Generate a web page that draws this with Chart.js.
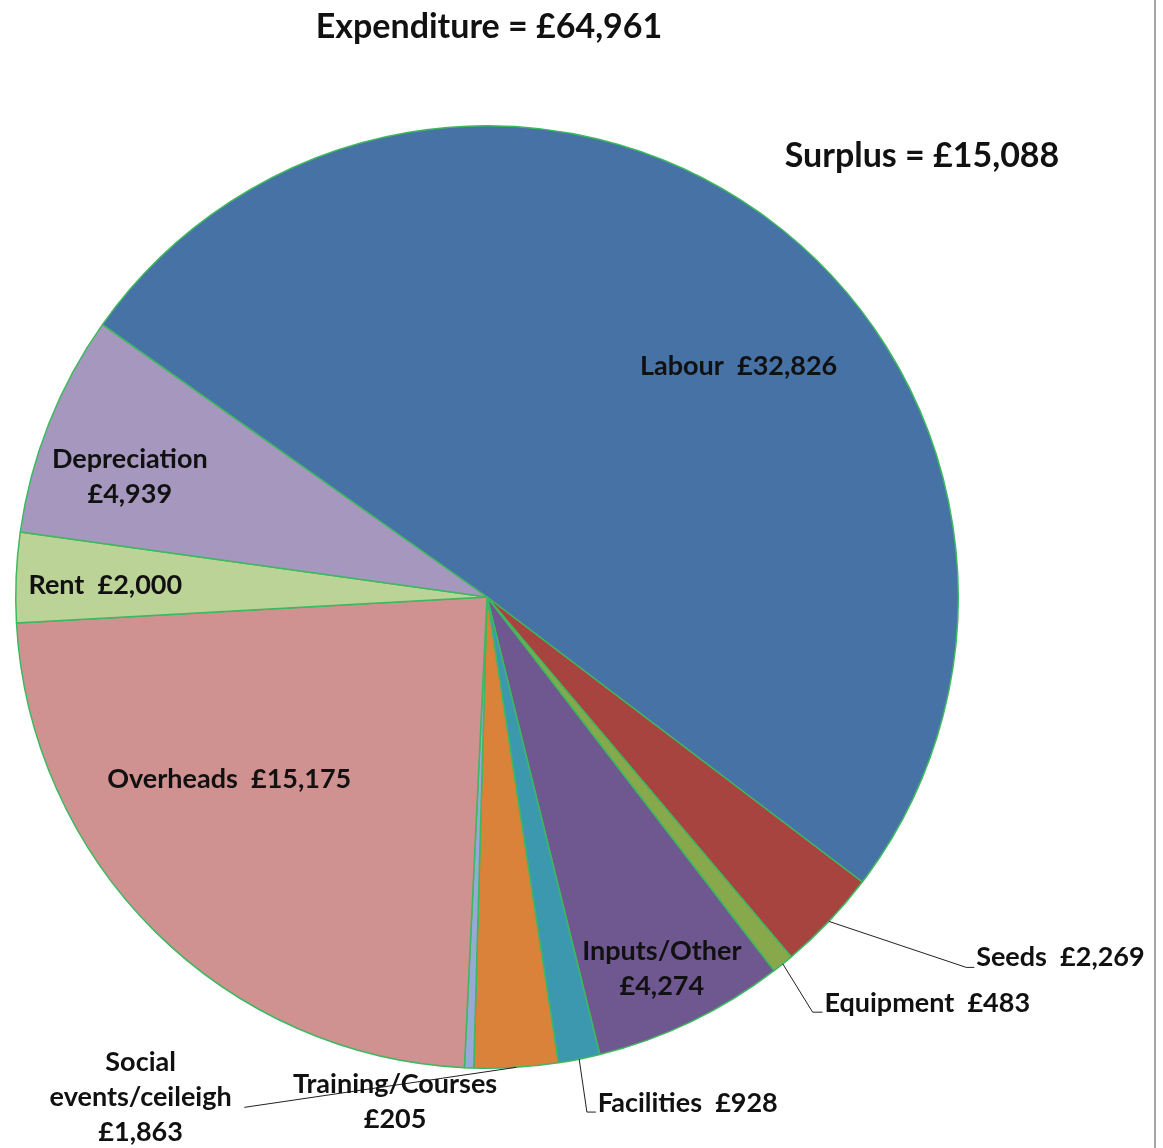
<!DOCTYPE html>
<html>
<head>
<meta charset="utf-8">
<script src="https://cdn.jsdelivr.net/npm/chart.js@4/dist/chart.umd.min.js"></script>
<style>
  html, body { margin: 0; padding: 0; background: #ffffff; }
  #wrap { width: 1163px; height: 1148px; position: relative; }
  canvas { display: block; }
</style>
</head>
<body>
<div id="wrap"><canvas id="c" width="1163" height="1148"></canvas></div>
<script>
// ---- data ----
const categories = ['Labour', 'Seeds', 'Equipment', 'Inputs/Other', 'Facilities',
  'Social events/ceileigh', 'Training/Courses', 'Overheads', 'Rent', 'Depreciation'];
const values = [32826, 2269, 483, 4274, 928, 1863, 205, 15175, 2000, 4939];
const titleText = 'Expenditure = £64,961';
const surplusText = 'Surplus = £15,088';

// ---- styles ----
const colors = ['#4672A6', '#A8443F', '#88A84C', '#6F578F', '#3C98AF',
  '#DA8239', '#95ABD6', '#D09290', '#BCD397', '#A597BE'];
const FONT = 'Lato, "Open Sans", sans-serif';

// label layout, offsets relative to pie centre in units of radius
const labelLayout = [
  { lines: ['Labour  {v}'], pos: [0.534, -0.489] },
  { lines: ['Seeds  {v}'], pos: [1.038, 0.765], align: 'left', elbow: [1.017, 0.786], end: [1.034, 0.786] },
  { lines: ['Equipment  {v}'], pos: [0.716, 0.862], align: 'left', elbow: [0.691, 0.881], end: [0.712, 0.881] },
  { lines: ['Inputs/Other', '{v}'], pos: [0.371, 0.790] },
  { lines: ['Facilities  {v}'], pos: [0.235, 1.074], align: 'left', elbow: [0.212, 1.093], end: [0.231, 1.093] },
  { lines: ['Social', 'events/ceileigh', '{v}'], pos: [-0.735, 1.061], end: [-0.515, 1.083] },
  { lines: ['Training/Courses', '{v}'], pos: [-0.195, 1.072] },
  { lines: ['Overheads  {v}'], pos: [-0.547, 0.386] },
  { lines: ['Rent  {v}'], pos: [-0.810, -0.025] },
  { lines: ['Depreciation', '{v}'], pos: [-0.758, -0.256] }
];

function fmt(v) { return '£' + v.toLocaleString('en-GB'); }

const labelPlugin = {
  id: 'labelPlugin',
  beforeDraw(chart) {
    const ctx = chart.ctx;
    ctx.save();
    ctx.fillStyle = '#ffffff';
    ctx.fillRect(0, 0, chart.width, chart.height);
    ctx.restore();
  },
  afterDraw(chart) {
    const ctx = chart.ctx;
    const meta = chart.getDatasetMeta(0);
    const first = meta.data[0];
    const cx = first.x, cy = first.y, R = first.outerRadius;
    ctx.save();
    // frame line on the right
    ctx.strokeStyle = '#A6A6A6';
    ctx.lineWidth = 2;
    ctx.beginPath();
    ctx.moveTo(chart.width - 8, 0);
    ctx.lineTo(chart.width - 8, chart.height);
    ctx.stroke();

    // title texts
    ctx.fillStyle = '#111111';
    ctx.textBaseline = 'middle';
    ctx.font = 'bold 34px ' + FONT;
    ctx.textAlign = 'center';
    ctx.fillText(titleText, cx + 2, 27);
    ctx.fillText(surplusText, cx + 435, 156);

    // slice labels
    ctx.font = 'bold 27px ' + FONT;
    const lh = 35;
    meta.data.forEach((arc, i) => {
      const L = labelLayout[i];
      const mid = (arc.startAngle + arc.endAngle) / 2;
      if (L.end) {
        ctx.strokeStyle = '#222222';
        ctx.lineWidth = 1;
        ctx.beginPath();
        ctx.moveTo(cx + Math.cos(mid) * R, cy + Math.sin(mid) * R);
        if (L.elbow) ctx.lineTo(cx + L.elbow[0] * R, cy + L.elbow[1] * R);
        ctx.lineTo(cx + L.end[0] * R, cy + L.end[1] * R);
        ctx.stroke();
      }
      const x = cx + L.pos[0] * R;
      const y = cy + L.pos[1] * R;
      ctx.textAlign = L.align || 'center';
      ctx.fillStyle = '#111111';
      const n = L.lines.length;
      L.lines.forEach((t, k) => {
        const txt = t.replace('{v}', fmt(values[i]));
        ctx.fillText(txt, x, y + (k - (n - 1) / 2) * lh);
      });
    });
    ctx.restore();
  }
};

new Chart(document.getElementById('c'), {
  type: 'pie',
  data: {
    labels: categories,
    datasets: [{
      data: values,
      backgroundColor: colors,
      borderColor: '#3DB860',
      borderWidth: 1.5
    }]
  },
  options: {
    responsive: false,
    animation: false,
    rotation: -54.7,
    layout: { padding: { left: 15, right: 204, top: 125, bottom: 79 } },
    plugins: {
      legend: { display: false },
      tooltip: { enabled: false },
      title: { display: false }
    }
  },
  plugins: [labelPlugin]
});
</script>
</body>
</html>
